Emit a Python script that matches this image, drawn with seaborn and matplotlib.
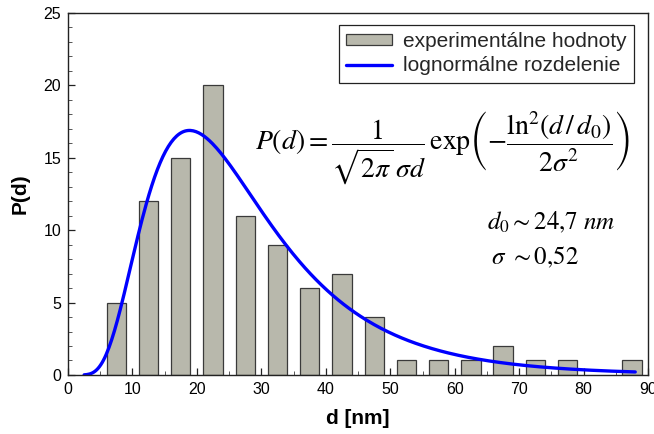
import numpy as np
import pandas as pd
import matplotlib
matplotlib.use("Agg")
import matplotlib.pyplot as plt
import seaborn as sns
from matplotlib.patches import Patch
from matplotlib.lines import Line2D
from matplotlib.ticker import MultipleLocator

# Histogram of particle diameters (bin centres in nm, counts)
bin_centers = [7.5, 12.5, 17.5, 22.5, 27.5, 32.5, 37.5, 42.5, 47.5,
               52.5, 57.5, 62.5, 67.5, 72.5, 77.5, 87.5]
counts = [5, 12, 15, 20, 11, 9, 6, 7, 4, 1, 1, 1, 2, 1, 1, 1]

# Lognormal fit parameters
d0 = 24.7
sigma = 0.52
amplitude = 475.0
d_min, d_max = 2.5, 88.0

x_ticks = [0, 10, 20, 30, 40, 50, 60, 70, 80, 90]
y_ticks = [0, 5, 10, 15, 20, 25]

sns.set_theme(style="ticks")
plt.rcParams["font.family"] = ["Liberation Sans", "DejaVu Sans"]
plt.rcParams["mathtext.fontset"] = "stix"

fig = plt.figure(figsize=(6.54, 4.34), dpi=100)
ax = fig.add_axes([0.104, 0.136, 0.887, 0.834])

bars = pd.DataFrame({"d": bin_centers, "n": counts})
sns.barplot(data=bars, x="d", y="n", native_scale=True, width=0.6,
            color="#b8b8ac", saturation=1, edgecolor="#3a3a3a",
            linewidth=0.9, ax=ax)

d = np.linspace(d_min, d_max, 400)
p = amplitude / (np.sqrt(2 * np.pi) * sigma * d) * np.exp(-np.log(d / d0) ** 2 / (2 * sigma ** 2))
fit = pd.DataFrame({"d": d, "P": p})
sns.lineplot(data=fit, x="d", y="P", color="#0000ff", linewidth=2.4, ax=ax)

ax.set_xlim(0, 90)
ax.set_ylim(0, 25)
ax.set_xticks(x_ticks)
ax.set_yticks(y_ticks)
ax.xaxis.set_minor_locator(MultipleLocator(5))
ax.yaxis.set_minor_locator(MultipleLocator(1))
ax.tick_params(which="major", direction="in", length=5, width=0.9,
               labelsize=11.5, colors="#222222", labelcolor="black", pad=5)
ax.tick_params(which="minor", direction="in", length=3, width=0.7, colors="#555555")
ax.tick_params(top=False, right=False, which="both")
for s in ax.spines.values():
    s.set_linewidth(1.0)
    s.set_color("#222222")

ax.set_xlabel("d [nm]", fontsize=15, fontweight="bold", labelpad=9, color="black")
ax.set_ylabel("P(d)", fontsize=15, fontweight="bold", labelpad=10, color="black")

handles = [Patch(facecolor="#b8b8ac", edgecolor="#3a3a3a", linewidth=0.9),
           Line2D([0], [0], color="#0000ff", linewidth=2.4)]
leg = ax.legend(handles, ["experimentálne hodnoty", "lognormálne rozdelenie"],
                loc="upper right", bbox_to_anchor=(0.976, 0.967),
                fontsize=15, frameon=True, fancybox=False, framealpha=1,
                edgecolor="#222222", handlelength=2.2, handleheight=0.45,
                borderpad=0.35, labelspacing=0.25, handletextpad=0.55,
                borderaxespad=0.0)
leg.get_frame().set_linewidth(0.9)

ax.text(0.645, 0.627,
        r"$P\left(d\right)=\dfrac{1}{\sqrt{2\pi}\,\sigma d}\,\mathrm{exp}\left(-\dfrac{\mathrm{ln}^2\left(d\,/\,d_0\right)}{2\sigma^2}\right)$",
        transform=ax.transAxes, fontsize=20, ha="center", va="center", color="black")
ax.text(0.722, 0.422, r"$d_0\sim24{,}7\ nm$", transform=ax.transAxes,
        fontsize=18, ha="left", va="center", color="black")
ax.text(0.730, 0.325, r"$\sigma\ \sim0{,}52$", transform=ax.transAxes,
        fontsize=18, ha="left", va="center", color="black")

fig.savefig("out.png", dpi=100)
